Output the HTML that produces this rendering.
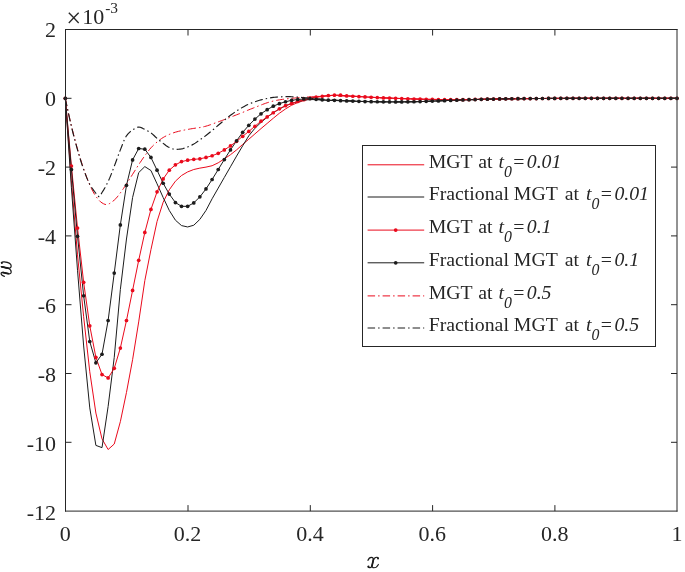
<!DOCTYPE html>
<html><head><meta charset="utf-8"><title>w vs x</title>
<style>html,body{margin:0;padding:0;background:#fff;}svg{display:block;will-change:transform;}text{font-family:"Liberation Serif",serif;fill:#262626;}.t{font-size:22px;}.l{font-size:19.8px;}.i{font-style:italic;}</style></head><body>
<svg width="685" height="572" viewBox="0 0 685 572">
<rect x="0" y="0" width="685" height="572" fill="#ffffff"/>
<g fill="none" stroke-width="1.00" stroke-linejoin="round">
<path d="M65.30,98.30 L71.42,180.86 L77.53,254.82 L83.65,316.74 L89.77,371.78 L95.89,413.06 L102.00,438.86 L108.12,449.52 L114.24,444.02 L120.35,421.66 L126.47,392.42 L132.59,359.74 L138.70,321.90 L144.82,280.62 L150.94,249.66 L157.06,221.45 L163.17,202.19 L169.29,189.80 L175.41,181.20 L181.52,175.53 L187.64,171.92 L193.76,169.51 L199.87,168.13 L205.99,167.10 L212.11,165.72 L218.23,162.80 L224.34,158.84 L230.46,154.72 L236.58,149.90 L242.69,144.40 L248.81,139.24 L254.93,133.90 L261.04,128.57 L267.16,123.41 L273.28,118.25 L279.39,113.26 L285.51,108.96 L291.63,105.18 L297.75,102.60 L303.86,100.54 L309.98,98.82 L316.10,97.27 L322.21,96.30 L328.33,95.62 L334.45,95.27 L340.57,95.27 L346.68,95.89 L352.80,96.24 L358.92,96.58 L365.03,96.92 L371.15,97.27 L377.27,97.60 L383.38,97.89 L389.50,98.10 L395.62,98.30 L401.74,98.54 L407.85,98.78 L413.97,98.99 L420.09,99.15 L426.20,99.29 L432.32,99.40 L438.44,99.50 L444.55,99.59 L450.67,99.65 L456.79,99.68 L462.91,99.64 L469.02,99.54 L475.14,99.44 L481.26,99.32 L487.37,99.17 L493.49,99.03 L499.61,98.92 L505.72,98.83 L511.84,98.75 L517.96,98.68 L524.08,98.62 L530.19,98.58 L536.31,98.53 L542.43,98.49 L548.54,98.45 L554.66,98.41 L560.78,98.37 L566.89,98.34 L573.01,98.32 L579.13,98.31 L585.25,98.30 L591.36,98.30 L597.48,98.30 L603.60,98.30 L609.71,98.30 L615.83,98.30 L621.95,98.30 L628.06,98.30 L634.18,98.30 L640.30,98.30 L646.41,98.30 L652.53,98.30 L658.65,98.30 L664.77,98.30 L670.88,98.30 L677.00,98.30" stroke="#ea0a1c"/>
<path d="M65.30,98.30 L71.42,187.74 L77.53,270.30 L83.65,345.98 L89.77,407.90 L95.89,445.40 L102.00,447.63 L108.12,406.52 L114.24,357.33 L120.35,289.56 L126.47,239.00 L132.59,197.54 L138.70,172.60 L144.82,166.58 L150.94,170.54 L157.06,183.82 L163.17,197.51 L169.29,210.44 L175.41,220.18 L181.52,225.58 L187.64,226.96 L193.76,225.24 L199.87,219.39 L205.99,210.44 L212.11,198.75 L218.23,188.08 L224.34,177.42 L230.46,166.76 L236.58,156.09 L242.69,145.77 L248.81,135.80 L254.93,128.23 L261.04,122.38 L267.16,117.22 L273.28,112.75 L279.39,108.96 L285.51,105.87 L291.63,103.46 L297.75,101.57 L303.86,100.19 L309.98,99.50 L316.10,99.68 L322.21,100.02 L328.33,100.30 L334.45,100.50 L340.57,100.71 L346.68,100.95 L352.80,101.16 L358.92,101.36 L365.03,101.57 L371.15,101.71 L377.27,101.79 L383.38,101.84 L389.50,101.89 L395.62,101.91 L401.74,101.89 L407.85,101.82 L413.97,101.74 L420.09,101.59 L426.20,101.36 L432.32,101.12 L438.44,100.89 L444.55,100.64 L450.67,100.39 L456.79,100.13 L462.91,99.91 L469.02,99.72 L475.14,99.54 L481.26,99.36 L487.37,99.19 L493.49,99.04 L499.61,98.92 L505.72,98.83 L511.84,98.75 L517.96,98.68 L524.08,98.62 L530.19,98.58 L536.31,98.53 L542.43,98.49 L548.54,98.45 L554.66,98.41 L560.78,98.37 L566.89,98.34 L573.01,98.32 L579.13,98.31 L585.25,98.30 L591.36,98.30 L597.48,98.30 L603.60,98.30 L609.71,98.30 L615.83,98.30 L621.95,98.30 L628.06,98.30 L634.18,98.30 L640.30,98.30 L646.41,98.30 L652.53,98.30 L658.65,98.30 L664.77,98.30 L670.88,98.30 L677.00,98.30" stroke="#1c1c1c"/>
<path d="M65.30,98.30 L71.42,166.07 L77.53,227.99 L83.65,282.34 L89.77,325.86 L95.89,357.33 L102.00,374.53 L108.12,377.97 L114.24,368.34 L120.35,348.04 L126.47,320.52 L132.59,290.42 L138.70,260.32 L144.82,232.46 L150.94,209.41 L157.06,191.87 L163.17,178.97 L169.29,170.20 L175.41,164.86 L181.52,161.60 L187.64,160.22 L193.76,159.36 L199.87,158.84 L205.99,157.47 L212.11,155.75 L218.23,153.34 L224.34,149.90 L230.46,145.94 L236.58,141.30 L242.69,136.31 L248.81,131.43 L254.93,126.23 L261.04,121.18 L267.16,116.88 L273.28,112.75 L279.39,108.79 L285.51,105.70 L291.63,103.46 L297.75,101.40 L303.86,99.68 L309.98,98.30 L316.10,97.10 L322.21,96.24 L328.33,95.55 L334.45,95.20 L340.57,95.20 L346.68,95.89 L352.80,96.24 L358.92,96.58 L365.03,96.92 L371.15,97.27 L377.27,97.60 L383.38,97.89 L389.50,98.10 L395.62,98.30 L401.74,98.54 L407.85,98.78 L413.97,98.99 L420.09,99.15 L426.20,99.29 L432.32,99.40 L438.44,99.50 L444.55,99.59 L450.67,99.65 L456.79,99.68 L462.91,99.64 L469.02,99.54 L475.14,99.44 L481.26,99.32 L487.37,99.17 L493.49,99.03 L499.61,98.92 L505.72,98.83 L511.84,98.75 L517.96,98.68 L524.08,98.62 L530.19,98.58 L536.31,98.53 L542.43,98.49 L548.54,98.45 L554.66,98.41 L560.78,98.37 L566.89,98.34 L573.01,98.32 L579.13,98.31 L585.25,98.30 L591.36,98.30 L597.48,98.30 L603.60,98.30 L609.71,98.30 L615.83,98.30 L621.95,98.30 L628.06,98.30 L634.18,98.30 L640.30,98.30 L646.41,98.30 L652.53,98.30 L658.65,98.30 L664.77,98.30 L670.88,98.30 L677.00,98.30" stroke="#ea0a1c"/>
<path d="M65.30,98.30 L71.42,169.51 L77.53,236.24 L83.65,295.76 L89.77,341.51 L95.89,362.84 L102.00,354.24 L108.12,320.52 L114.24,273.05 L120.35,224.89 L126.47,185.33 L132.59,159.88 L138.70,148.52 L144.82,149.21 L150.94,157.47 L157.06,170.20 L163.17,183.27 L169.29,194.10 L175.41,202.53 L181.52,206.32 L187.64,206.32 L193.76,202.88 L199.87,196.86 L205.99,188.94 L212.11,179.48 L218.23,169.51 L224.34,159.53 L230.46,149.90 L236.58,140.78 L242.69,132.36 L248.81,125.30 L254.93,119.11 L261.04,113.78 L267.16,109.65 L273.28,106.21 L279.39,103.63 L285.51,101.74 L291.63,100.36 L297.75,99.50 L303.86,98.99 L309.98,98.71 L316.10,99.33 L322.21,99.85 L328.33,100.19 L334.45,100.36 L340.57,100.64 L346.68,100.88 L352.80,101.12 L358.92,101.33 L365.03,101.53 L371.15,101.67 L377.27,101.77 L383.38,101.84 L389.50,101.89 L395.62,101.91 L401.74,101.89 L407.85,101.82 L413.97,101.74 L420.09,101.59 L426.20,101.36 L432.32,101.12 L438.44,100.89 L444.55,100.64 L450.67,100.39 L456.79,100.13 L462.91,99.91 L469.02,99.72 L475.14,99.54 L481.26,99.36 L487.37,99.19 L493.49,99.04 L499.61,98.92 L505.72,98.83 L511.84,98.75 L517.96,98.68 L524.08,98.62 L530.19,98.58 L536.31,98.53 L542.43,98.49 L548.54,98.45 L554.66,98.41 L560.78,98.37 L566.89,98.34 L573.01,98.32 L579.13,98.31 L585.25,98.30 L591.36,98.30 L597.48,98.30 L603.60,98.30 L609.71,98.30 L615.83,98.30 L621.95,98.30 L628.06,98.30 L634.18,98.30 L640.30,98.30 L646.41,98.30 L652.53,98.30 L658.65,98.30 L664.77,98.30 L670.88,98.30 L677.00,98.30" stroke="#1c1c1c"/>
<path d="M65.30,98.30 L66.83,105.57 L68.36,112.60 L69.89,119.35 L71.42,125.82 L72.95,132.03 L74.48,138.01 L76.00,143.74 L77.53,149.21 L79.06,154.45 L80.59,159.47 L82.12,164.26 L83.65,168.82 L85.18,173.21 L86.71,177.45 L88.24,181.42 L89.77,184.99 L91.30,188.25 L92.83,191.29 L94.36,194.02 L95.89,196.34 L97.41,198.36 L98.94,200.21 L100.47,201.75 L102.00,202.88 L103.53,203.74 L105.06,204.40 L106.59,204.59 L108.12,204.24 L109.65,203.51 L111.18,202.50 L112.71,201.33 L114.24,200.12 L115.77,198.70 L117.29,196.92 L118.82,194.93 L120.35,192.90 L121.88,190.81 L123.41,188.59 L124.94,186.28 L126.47,183.96 L128.00,181.60 L129.53,179.18 L131.06,176.75 L132.59,174.32 L134.12,171.90 L135.65,169.46 L137.17,167.05 L138.70,164.69 L140.23,162.38 L141.76,160.11 L143.29,157.89 L144.82,155.75 L146.35,153.65 L147.88,151.58 L149.41,149.62 L150.94,147.84 L152.47,146.21 L154.00,144.70 L155.53,143.30 L157.06,141.99 L158.58,140.75 L160.11,139.58 L161.64,138.49 L163.17,137.52 L164.70,136.64 L166.23,135.84 L167.76,135.10 L169.29,134.42 L170.82,133.79 L172.35,133.21 L173.88,132.67 L175.41,132.18 L176.94,131.75 L178.46,131.35 L179.99,130.98 L181.52,130.64 L183.05,130.31 L184.58,130.00 L186.11,129.71 L187.64,129.43 L189.17,129.16 L190.70,128.89 L192.23,128.64 L193.76,128.40 L195.29,128.18 L196.82,127.99 L198.34,127.78 L199.87,127.54 L201.40,127.25 L202.93,126.93 L204.46,126.56 L205.99,126.16 L207.52,125.71 L209.05,125.19 L210.58,124.65 L212.11,124.10 L213.64,123.55 L215.17,122.99 L216.70,122.43 L218.23,121.86 L219.75,121.31 L221.28,120.76 L222.81,120.20 L224.34,119.63 L225.87,119.04 L227.40,118.44 L228.93,117.83 L230.46,117.22 L231.99,116.62 L233.52,116.02 L235.05,115.41 L236.58,114.81 L238.11,114.21 L239.63,113.62 L241.16,113.02 L242.69,112.40 L244.22,111.77 L245.75,111.11 L247.28,110.46 L248.81,109.82 L250.34,109.21 L251.87,108.61 L253.40,108.01 L254.93,107.42 L256.46,106.81 L257.99,106.20 L259.51,105.60 L261.04,105.01 L262.57,104.42 L264.10,103.84 L265.63,103.29 L267.16,102.77 L268.69,102.30 L270.22,101.85 L271.75,101.43 L273.28,101.05 L274.81,100.71 L276.34,100.40 L277.87,100.11 L279.39,99.85 L280.92,99.61 L282.45,99.39 L283.98,99.18 L285.51,98.99 L287.04,98.80 L288.57,98.62 L290.10,98.45 L291.63,98.30 L293.16,98.16 L294.69,98.03 L296.22,97.91 L297.75,97.78 L299.28,97.65 L300.80,97.51 L302.33,97.38 L303.86,97.27 L305.39,97.17 L306.92,97.08 L308.45,97.00 L309.98,96.92 L311.51,96.84 L313.04,96.75 L314.57,96.66 L316.10,96.56 L317.63,96.47 L319.16,96.37 L320.68,96.29 L322.21,96.22 L323.74,96.15 L325.27,96.11 L326.80,96.07 L328.33,96.06 L329.86,96.06 L331.39,96.06 L332.92,96.06 L334.45,96.06 L335.98,96.06 L337.51,96.06 L339.04,96.06 L340.57,96.06 L342.09,96.06 L343.62,96.06 L345.15,96.06 L346.68,96.06 L348.21,96.07 L349.74,96.10 L351.27,96.14 L352.80,96.19 L354.33,96.26 L355.86,96.34 L357.39,96.42 L358.92,96.51 L360.45,96.61 L361.97,96.71 L363.50,96.81 L365.03,96.91 L366.56,97.01 L368.09,97.10 L369.62,97.19 L371.15,97.27 L372.68,97.35 L374.21,97.43 L375.74,97.51 L377.27,97.59 L378.80,97.67 L380.33,97.75 L381.85,97.82 L383.38,97.89 L384.91,97.95 L386.44,98.00 L387.97,98.05 L389.50,98.10 L391.03,98.15 L392.56,98.20 L394.09,98.25 L395.62,98.30 L397.15,98.36 L398.68,98.41 L400.21,98.47 L401.74,98.54 L403.26,98.60 L404.79,98.66 L406.32,98.72 L407.85,98.78 L409.38,98.84 L410.91,98.89 L412.44,98.94 L413.97,98.99 L415.50,99.03 L417.03,99.07 L418.56,99.11 L420.09,99.15 L421.62,99.19 L423.14,99.22 L424.67,99.26 L426.20,99.29 L427.73,99.32 L429.26,99.35 L430.79,99.38 L432.32,99.40 L433.85,99.42 L435.38,99.45 L436.91,99.47 L438.44,99.50 L439.97,99.52 L441.50,99.54 L443.02,99.56 L444.55,99.59 L446.08,99.60 L447.61,99.62 L449.14,99.64 L450.67,99.65 L452.20,99.66 L453.73,99.67 L455.26,99.67 L456.79,99.68 L458.32,99.67 L459.85,99.66 L461.38,99.65 L462.91,99.64 L464.43,99.62 L465.96,99.59 L467.49,99.57 L469.02,99.54 L470.55,99.51 L472.08,99.49 L473.61,99.46 L475.14,99.44 L476.67,99.41 L478.20,99.38 L479.73,99.35 L481.26,99.32 L482.79,99.28 L484.31,99.25 L485.84,99.21 L487.37,99.17 L488.90,99.14 L490.43,99.10 L491.96,99.07 L493.49,99.03 L495.02,99.00 L496.55,98.97 L498.08,98.94 L499.61,98.92 L501.14,98.90 L502.67,98.87 L504.19,98.85 L505.72,98.83 L507.25,98.81 L508.78,98.79 L510.31,98.77 L511.84,98.75 L513.37,98.74 L514.90,98.72 L516.43,98.70 L517.96,98.68 L519.49,98.67 L521.02,98.65 L522.55,98.64 L524.08,98.62 L525.60,98.61 L527.13,98.60 L528.66,98.59 L530.19,98.58 L531.72,98.56 L533.25,98.55 L534.78,98.54 L536.31,98.53 L537.84,98.52 L539.37,98.51 L540.90,98.50 L542.43,98.49 L543.96,98.48 L545.48,98.47 L547.01,98.46 L548.54,98.45 L550.07,98.44 L551.60,98.43 L553.13,98.42 L554.66,98.41 L556.19,98.40 L557.72,98.39 L559.25,98.38 L560.78,98.37 L562.31,98.36 L563.84,98.36 L565.36,98.35 L566.89,98.34 L568.42,98.34 L569.95,98.33 L571.48,98.32 L573.01,98.32 L574.54,98.32 L576.07,98.31 L577.60,98.31 L579.13,98.31 L580.66,98.30 L582.19,98.30 L583.72,98.30 L585.25,98.30 L586.77,98.30 L588.30,98.30 L589.83,98.30 L591.36,98.30 L592.89,98.30 L594.42,98.30 L595.95,98.30 L597.48,98.30 L599.01,98.30 L600.54,98.30 L602.07,98.30 L603.60,98.30 L605.13,98.30 L606.65,98.30 L608.18,98.30 L609.71,98.30 L611.24,98.30 L612.77,98.30 L614.30,98.30 L615.83,98.30 L617.36,98.30 L618.89,98.30 L620.42,98.30 L621.95,98.30 L623.48,98.30 L625.01,98.30 L626.53,98.30 L628.06,98.30 L629.59,98.30 L631.12,98.30 L632.65,98.30 L634.18,98.30 L635.71,98.30 L637.24,98.30 L638.77,98.30 L640.30,98.30 L641.83,98.30 L643.36,98.30 L644.89,98.30 L646.41,98.30 L647.94,98.30 L649.47,98.30 L651.00,98.30 L652.53,98.30 L654.06,98.30 L655.59,98.30 L657.12,98.30 L658.65,98.30 L660.18,98.30 L661.71,98.30 L663.24,98.30 L664.77,98.30 L666.30,98.30 L667.82,98.30 L669.35,98.30 L670.88,98.30 L672.41,98.30 L673.94,98.30 L675.47,98.30 L677.00,98.30" stroke="#ea0a1c" stroke-width="1.0" stroke-dasharray="8 3 1.5 3"/>
<path d="M65.30,98.30 L66.83,105.81 L68.36,113.03 L69.89,119.94 L71.42,126.51 L72.95,132.76 L74.48,138.73 L76.00,144.44 L77.53,149.90 L79.06,155.17 L80.59,160.26 L82.12,165.07 L83.65,169.51 L85.18,173.67 L86.71,177.62 L88.24,181.21 L89.77,184.30 L91.30,186.91 L92.83,189.21 L94.36,191.29 L95.89,193.24 L97.41,195.44 L98.94,196.68 L100.47,195.20 L102.00,192.56 L103.53,190.13 L105.06,187.48 L106.59,184.63 L108.12,181.55 L109.65,178.13 L111.18,174.36 L112.71,170.40 L114.24,166.41 L115.77,162.32 L117.29,158.08 L118.82,153.88 L120.35,149.90 L121.88,145.94 L123.41,141.98 L124.94,138.45 L126.47,135.80 L128.00,133.90 L129.53,132.33 L131.06,131.03 L132.59,129.95 L134.12,128.93 L135.65,127.98 L137.17,127.27 L138.70,126.99 L140.23,127.24 L141.76,127.85 L143.29,128.65 L144.82,129.43 L146.35,130.17 L147.88,130.98 L149.41,131.87 L150.94,132.87 L152.47,134.08 L154.00,135.50 L155.53,136.98 L157.06,138.38 L158.58,139.68 L160.11,140.96 L161.64,142.19 L163.17,143.36 L164.70,144.52 L166.23,145.67 L167.76,146.69 L169.29,147.49 L170.82,148.15 L172.35,148.76 L173.88,149.21 L175.41,149.38 L176.94,149.34 L178.46,149.23 L179.99,149.06 L181.52,148.87 L183.05,148.57 L184.58,148.11 L186.11,147.56 L187.64,146.98 L189.17,146.36 L190.70,145.65 L192.23,144.88 L193.76,144.05 L195.29,143.13 L196.82,142.10 L198.34,141.01 L199.87,139.92 L201.40,138.84 L202.93,137.74 L204.46,136.61 L205.99,135.45 L207.52,134.25 L209.05,133.00 L210.58,131.74 L212.11,130.46 L213.64,129.19 L215.17,127.89 L216.70,126.60 L218.23,125.30 L219.75,124.01 L221.28,122.70 L222.81,121.41 L224.34,120.14 L225.87,118.90 L227.40,117.68 L228.93,116.49 L230.46,115.33 L231.99,114.21 L233.52,113.11 L235.05,112.05 L236.58,111.03 L238.11,110.03 L239.63,109.06 L241.16,108.13 L242.69,107.24 L244.22,106.41 L245.75,105.61 L247.28,104.85 L248.81,104.15 L250.34,103.49 L251.87,102.87 L253.40,102.29 L254.93,101.74 L256.46,101.22 L257.99,100.73 L259.51,100.27 L261.04,99.85 L262.57,99.46 L264.10,99.11 L265.63,98.78 L267.16,98.47 L268.69,98.18 L270.22,97.89 L271.75,97.64 L273.28,97.44 L274.81,97.28 L276.34,97.15 L277.87,97.03 L279.39,96.92 L280.92,96.81 L282.45,96.70 L283.98,96.61 L285.51,96.58 L287.04,96.60 L288.57,96.64 L290.10,96.69 L291.63,96.75 L293.16,96.82 L294.69,96.90 L296.22,96.99 L297.75,97.10 L299.28,97.21 L300.80,97.34 L302.33,97.48 L303.86,97.61 L305.39,97.74 L306.92,97.87 L308.45,98.00 L309.98,98.13 L311.51,98.26 L313.04,98.39 L314.57,98.53 L316.10,98.66 L317.63,98.79 L319.16,98.92 L320.68,99.04 L322.21,99.16 L323.74,99.27 L325.27,99.39 L326.80,99.50 L328.33,99.61 L329.86,99.71 L331.39,99.82 L332.92,99.92 L334.45,100.02 L335.98,100.11 L337.51,100.20 L339.04,100.28 L340.57,100.36 L342.09,100.44 L343.62,100.51 L345.15,100.59 L346.68,100.66 L348.21,100.73 L349.74,100.80 L351.27,100.86 L352.80,100.93 L354.33,100.99 L355.86,101.05 L357.39,101.11 L358.92,101.17 L360.45,101.23 L361.97,101.28 L363.50,101.33 L365.03,101.38 L366.56,101.43 L368.09,101.48 L369.62,101.52 L371.15,101.57 L372.68,101.61 L374.21,101.65 L375.74,101.69 L377.27,101.73 L378.80,101.77 L380.33,101.80 L381.85,101.83 L383.38,101.84 L384.91,101.86 L386.44,101.87 L387.97,101.88 L389.50,101.89 L391.03,101.90 L392.56,101.91 L394.09,101.91 L395.62,101.91 L397.15,101.91 L398.68,101.91 L400.21,101.90 L401.74,101.89 L403.26,101.87 L404.79,101.86 L406.32,101.84 L407.85,101.82 L409.38,101.80 L410.91,101.78 L412.44,101.76 L413.97,101.74 L415.50,101.71 L417.03,101.68 L418.56,101.64 L420.09,101.59 L421.62,101.54 L423.14,101.48 L424.67,101.42 L426.20,101.36 L427.73,101.30 L429.26,101.24 L430.79,101.18 L432.32,101.12 L433.85,101.06 L435.38,101.01 L436.91,100.95 L438.44,100.89 L439.97,100.82 L441.50,100.76 L443.02,100.70 L444.55,100.64 L446.08,100.58 L447.61,100.51 L449.14,100.45 L450.67,100.39 L452.20,100.32 L453.73,100.26 L455.26,100.19 L456.79,100.13 L458.32,100.08 L459.85,100.02 L461.38,99.97 L462.91,99.91 L464.43,99.86 L465.96,99.81 L467.49,99.77 L469.02,99.72 L470.55,99.67 L472.08,99.63 L473.61,99.58 L475.14,99.54 L476.67,99.49 L478.20,99.45 L479.73,99.41 L481.26,99.36 L482.79,99.32 L484.31,99.28 L485.84,99.23 L487.37,99.19 L488.90,99.15 L490.43,99.11 L491.96,99.07 L493.49,99.04 L495.02,99.00 L496.55,98.97 L498.08,98.94 L499.61,98.92 L501.14,98.90 L502.67,98.87 L504.19,98.85 L505.72,98.83 L507.25,98.81 L508.78,98.79 L510.31,98.77 L511.84,98.75 L513.37,98.73 L514.90,98.71 L516.43,98.70 L517.96,98.68 L519.49,98.67 L521.02,98.65 L522.55,98.64 L524.08,98.62 L525.60,98.61 L527.13,98.60 L528.66,98.59 L530.19,98.58 L531.72,98.56 L533.25,98.55 L534.78,98.54 L536.31,98.53 L537.84,98.52 L539.37,98.51 L540.90,98.50 L542.43,98.49 L543.96,98.48 L545.48,98.47 L547.01,98.46 L548.54,98.45 L550.07,98.44 L551.60,98.43 L553.13,98.42 L554.66,98.41 L556.19,98.40 L557.72,98.39 L559.25,98.38 L560.78,98.37 L562.31,98.36 L563.84,98.36 L565.36,98.35 L566.89,98.34 L568.42,98.34 L569.95,98.33 L571.48,98.32 L573.01,98.32 L574.54,98.32 L576.07,98.31 L577.60,98.31 L579.13,98.31 L580.66,98.30 L582.19,98.30 L583.72,98.30 L585.25,98.30 L586.77,98.30 L588.30,98.30 L589.83,98.30 L591.36,98.30 L592.89,98.30 L594.42,98.30 L595.95,98.30 L597.48,98.30 L599.01,98.30 L600.54,98.30 L602.07,98.30 L603.60,98.30 L605.13,98.30 L606.65,98.30 L608.18,98.30 L609.71,98.30 L611.24,98.30 L612.77,98.30 L614.30,98.30 L615.83,98.30 L617.36,98.30 L618.89,98.30 L620.42,98.30 L621.95,98.30 L623.48,98.30 L625.01,98.30 L626.53,98.30 L628.06,98.30 L629.59,98.30 L631.12,98.30 L632.65,98.30 L634.18,98.30 L635.71,98.30 L637.24,98.30 L638.77,98.30 L640.30,98.30 L641.83,98.30 L643.36,98.30 L644.89,98.30 L646.41,98.30 L647.94,98.30 L649.47,98.30 L651.00,98.30 L652.53,98.30 L654.06,98.30 L655.59,98.30 L657.12,98.30 L658.65,98.30 L660.18,98.30 L661.71,98.30 L663.24,98.30 L664.77,98.30 L666.30,98.30 L667.82,98.30 L669.35,98.30 L670.88,98.30 L672.41,98.30 L673.94,98.30 L675.47,98.30 L677.00,98.30" stroke="#1c1c1c" stroke-width="1.15" stroke-dasharray="8 3 1.5 3"/>
</g>
<g fill="#ea0a1c"><circle cx="65.30" cy="98.30" r="1.85"/><circle cx="71.42" cy="166.07" r="1.85"/><circle cx="77.53" cy="227.99" r="1.85"/><circle cx="83.65" cy="282.34" r="1.85"/><circle cx="89.77" cy="325.86" r="1.85"/><circle cx="95.89" cy="357.33" r="1.85"/><circle cx="102.00" cy="374.53" r="1.85"/><circle cx="108.12" cy="377.97" r="1.85"/><circle cx="114.24" cy="368.34" r="1.85"/><circle cx="120.35" cy="348.04" r="1.85"/><circle cx="126.47" cy="320.52" r="1.85"/><circle cx="132.59" cy="290.42" r="1.85"/><circle cx="138.70" cy="260.32" r="1.85"/><circle cx="144.82" cy="232.46" r="1.85"/><circle cx="150.94" cy="209.41" r="1.85"/><circle cx="157.06" cy="191.87" r="1.85"/><circle cx="163.17" cy="178.97" r="1.85"/><circle cx="169.29" cy="170.20" r="1.85"/><circle cx="175.41" cy="164.86" r="1.85"/><circle cx="181.52" cy="161.60" r="1.85"/><circle cx="187.64" cy="160.22" r="1.85"/><circle cx="193.76" cy="159.36" r="1.85"/><circle cx="199.87" cy="158.84" r="1.85"/><circle cx="205.99" cy="157.47" r="1.85"/><circle cx="212.11" cy="155.75" r="1.85"/><circle cx="218.23" cy="153.34" r="1.85"/><circle cx="224.34" cy="149.90" r="1.85"/><circle cx="230.46" cy="145.94" r="1.85"/><circle cx="236.58" cy="141.30" r="1.85"/><circle cx="242.69" cy="136.31" r="1.85"/><circle cx="248.81" cy="131.43" r="1.85"/><circle cx="254.93" cy="126.23" r="1.85"/><circle cx="261.04" cy="121.18" r="1.85"/><circle cx="267.16" cy="116.88" r="1.85"/><circle cx="273.28" cy="112.75" r="1.85"/><circle cx="279.39" cy="108.79" r="1.85"/><circle cx="285.51" cy="105.70" r="1.85"/><circle cx="291.63" cy="103.46" r="1.85"/><circle cx="297.75" cy="101.40" r="1.85"/><circle cx="303.86" cy="99.68" r="1.85"/><circle cx="309.98" cy="98.30" r="1.85"/><circle cx="316.10" cy="97.10" r="1.85"/><circle cx="322.21" cy="96.24" r="1.85"/><circle cx="328.33" cy="95.55" r="1.85"/><circle cx="334.45" cy="95.20" r="1.85"/><circle cx="340.57" cy="95.20" r="1.85"/><circle cx="346.68" cy="95.89" r="1.85"/><circle cx="352.80" cy="96.24" r="1.85"/><circle cx="358.92" cy="96.58" r="1.85"/><circle cx="365.03" cy="96.92" r="1.85"/><circle cx="371.15" cy="97.27" r="1.85"/><circle cx="377.27" cy="97.60" r="1.85"/><circle cx="383.38" cy="97.89" r="1.85"/><circle cx="389.50" cy="98.10" r="1.85"/><circle cx="395.62" cy="98.30" r="1.85"/><circle cx="401.74" cy="98.54" r="1.85"/><circle cx="407.85" cy="98.78" r="1.85"/><circle cx="413.97" cy="98.99" r="1.85"/><circle cx="420.09" cy="99.15" r="1.85"/><circle cx="426.20" cy="99.29" r="1.85"/><circle cx="432.32" cy="99.40" r="1.85"/><circle cx="438.44" cy="99.50" r="1.85"/><circle cx="444.55" cy="99.59" r="1.85"/><circle cx="450.67" cy="99.65" r="1.85"/><circle cx="456.79" cy="99.68" r="1.85"/><circle cx="462.91" cy="99.64" r="1.85"/><circle cx="469.02" cy="99.54" r="1.85"/><circle cx="475.14" cy="99.44" r="1.85"/><circle cx="481.26" cy="99.32" r="1.85"/><circle cx="487.37" cy="99.17" r="1.85"/><circle cx="493.49" cy="99.03" r="1.85"/><circle cx="499.61" cy="98.92" r="1.85"/><circle cx="505.72" cy="98.83" r="1.85"/><circle cx="511.84" cy="98.75" r="1.85"/><circle cx="517.96" cy="98.68" r="1.85"/><circle cx="524.08" cy="98.62" r="1.85"/><circle cx="530.19" cy="98.58" r="1.85"/><circle cx="536.31" cy="98.53" r="1.85"/><circle cx="542.43" cy="98.49" r="1.85"/><circle cx="548.54" cy="98.45" r="1.85"/><circle cx="554.66" cy="98.41" r="1.85"/><circle cx="560.78" cy="98.37" r="1.85"/><circle cx="566.89" cy="98.34" r="1.85"/><circle cx="573.01" cy="98.32" r="1.85"/><circle cx="579.13" cy="98.31" r="1.85"/><circle cx="585.25" cy="98.30" r="1.85"/><circle cx="591.36" cy="98.30" r="1.85"/><circle cx="597.48" cy="98.30" r="1.85"/><circle cx="603.60" cy="98.30" r="1.85"/><circle cx="609.71" cy="98.30" r="1.85"/><circle cx="615.83" cy="98.30" r="1.85"/><circle cx="621.95" cy="98.30" r="1.85"/><circle cx="628.06" cy="98.30" r="1.85"/><circle cx="634.18" cy="98.30" r="1.85"/><circle cx="640.30" cy="98.30" r="1.85"/><circle cx="646.41" cy="98.30" r="1.85"/><circle cx="652.53" cy="98.30" r="1.85"/><circle cx="658.65" cy="98.30" r="1.85"/><circle cx="664.77" cy="98.30" r="1.85"/><circle cx="670.88" cy="98.30" r="1.85"/><circle cx="677.00" cy="98.30" r="1.85"/></g>
<g fill="#1c1c1c"><circle cx="65.30" cy="98.30" r="1.85"/><circle cx="71.42" cy="169.51" r="1.85"/><circle cx="77.53" cy="236.24" r="1.85"/><circle cx="83.65" cy="295.76" r="1.85"/><circle cx="89.77" cy="341.51" r="1.85"/><circle cx="95.89" cy="362.84" r="1.85"/><circle cx="102.00" cy="354.24" r="1.85"/><circle cx="108.12" cy="320.52" r="1.85"/><circle cx="114.24" cy="273.05" r="1.85"/><circle cx="120.35" cy="224.89" r="1.85"/><circle cx="126.47" cy="185.33" r="1.85"/><circle cx="132.59" cy="159.88" r="1.85"/><circle cx="138.70" cy="148.52" r="1.85"/><circle cx="144.82" cy="149.21" r="1.85"/><circle cx="150.94" cy="157.47" r="1.85"/><circle cx="157.06" cy="170.20" r="1.85"/><circle cx="163.17" cy="183.27" r="1.85"/><circle cx="169.29" cy="194.10" r="1.85"/><circle cx="175.41" cy="202.53" r="1.85"/><circle cx="181.52" cy="206.32" r="1.85"/><circle cx="187.64" cy="206.32" r="1.85"/><circle cx="193.76" cy="202.88" r="1.85"/><circle cx="199.87" cy="196.86" r="1.85"/><circle cx="205.99" cy="188.94" r="1.85"/><circle cx="212.11" cy="179.48" r="1.85"/><circle cx="218.23" cy="169.51" r="1.85"/><circle cx="224.34" cy="159.53" r="1.85"/><circle cx="230.46" cy="149.90" r="1.85"/><circle cx="236.58" cy="140.78" r="1.85"/><circle cx="242.69" cy="132.36" r="1.85"/><circle cx="248.81" cy="125.30" r="1.85"/><circle cx="254.93" cy="119.11" r="1.85"/><circle cx="261.04" cy="113.78" r="1.85"/><circle cx="267.16" cy="109.65" r="1.85"/><circle cx="273.28" cy="106.21" r="1.85"/><circle cx="279.39" cy="103.63" r="1.85"/><circle cx="285.51" cy="101.74" r="1.85"/><circle cx="291.63" cy="100.36" r="1.85"/><circle cx="297.75" cy="99.50" r="1.85"/><circle cx="303.86" cy="98.99" r="1.85"/><circle cx="309.98" cy="98.71" r="1.85"/><circle cx="316.10" cy="99.33" r="1.85"/><circle cx="322.21" cy="99.85" r="1.85"/><circle cx="328.33" cy="100.19" r="1.85"/><circle cx="334.45" cy="100.36" r="1.85"/><circle cx="340.57" cy="100.64" r="1.85"/><circle cx="346.68" cy="100.88" r="1.85"/><circle cx="352.80" cy="101.12" r="1.85"/><circle cx="358.92" cy="101.33" r="1.85"/><circle cx="365.03" cy="101.53" r="1.85"/><circle cx="371.15" cy="101.67" r="1.85"/><circle cx="377.27" cy="101.77" r="1.85"/><circle cx="383.38" cy="101.84" r="1.85"/><circle cx="389.50" cy="101.89" r="1.85"/><circle cx="395.62" cy="101.91" r="1.85"/><circle cx="401.74" cy="101.89" r="1.85"/><circle cx="407.85" cy="101.82" r="1.85"/><circle cx="413.97" cy="101.74" r="1.85"/><circle cx="420.09" cy="101.59" r="1.85"/><circle cx="426.20" cy="101.36" r="1.85"/><circle cx="432.32" cy="101.12" r="1.85"/><circle cx="438.44" cy="100.89" r="1.85"/><circle cx="444.55" cy="100.64" r="1.85"/><circle cx="450.67" cy="100.39" r="1.85"/><circle cx="456.79" cy="100.13" r="1.85"/><circle cx="462.91" cy="99.91" r="1.85"/><circle cx="469.02" cy="99.72" r="1.85"/><circle cx="475.14" cy="99.54" r="1.85"/><circle cx="481.26" cy="99.36" r="1.85"/><circle cx="487.37" cy="99.19" r="1.85"/><circle cx="493.49" cy="99.04" r="1.85"/><circle cx="499.61" cy="98.92" r="1.85"/><circle cx="505.72" cy="98.83" r="1.85"/><circle cx="511.84" cy="98.75" r="1.85"/><circle cx="517.96" cy="98.68" r="1.85"/><circle cx="524.08" cy="98.62" r="1.85"/><circle cx="530.19" cy="98.58" r="1.85"/><circle cx="536.31" cy="98.53" r="1.85"/><circle cx="542.43" cy="98.49" r="1.85"/><circle cx="548.54" cy="98.45" r="1.85"/><circle cx="554.66" cy="98.41" r="1.85"/><circle cx="560.78" cy="98.37" r="1.85"/><circle cx="566.89" cy="98.34" r="1.85"/><circle cx="573.01" cy="98.32" r="1.85"/><circle cx="579.13" cy="98.31" r="1.85"/><circle cx="585.25" cy="98.30" r="1.85"/><circle cx="591.36" cy="98.30" r="1.85"/><circle cx="597.48" cy="98.30" r="1.85"/><circle cx="603.60" cy="98.30" r="1.85"/><circle cx="609.71" cy="98.30" r="1.85"/><circle cx="615.83" cy="98.30" r="1.85"/><circle cx="621.95" cy="98.30" r="1.85"/><circle cx="628.06" cy="98.30" r="1.85"/><circle cx="634.18" cy="98.30" r="1.85"/><circle cx="640.30" cy="98.30" r="1.85"/><circle cx="646.41" cy="98.30" r="1.85"/><circle cx="652.53" cy="98.30" r="1.85"/><circle cx="658.65" cy="98.30" r="1.85"/><circle cx="664.77" cy="98.30" r="1.85"/><circle cx="670.88" cy="98.30" r="1.85"/><circle cx="677.00" cy="98.30" r="1.85"/></g>
<g stroke="#262626" stroke-width="1" fill="none" stroke-linecap="square">
<line x1="65.50" y1="29.50" x2="65.50" y2="511.10"/>
<line x1="677.00" y1="29.50" x2="677.00" y2="511.10"/>
<line x1="65.50" y1="29.50" x2="677.00" y2="29.50"/>
<line x1="65.50" y1="511.10" x2="677.00" y2="511.10"/>
</g>
<g stroke="#262626" stroke-width="1" fill="none">
<line x1="188.00" y1="511.10" x2="188.00" y2="505.10"/>
<line x1="188.00" y1="29.50" x2="188.00" y2="35.50"/>
<line x1="310.30" y1="511.10" x2="310.30" y2="505.10"/>
<line x1="310.30" y1="29.50" x2="310.30" y2="35.50"/>
<line x1="432.60" y1="511.10" x2="432.60" y2="505.10"/>
<line x1="432.60" y1="29.50" x2="432.60" y2="35.50"/>
<line x1="554.90" y1="511.10" x2="554.90" y2="505.10"/>
<line x1="554.90" y1="29.50" x2="554.90" y2="35.50"/>
<line x1="65.50" y1="98.30" x2="71.50" y2="98.30"/>
<line x1="677.00" y1="98.30" x2="671.00" y2="98.30"/>
<line x1="65.50" y1="167.10" x2="71.50" y2="167.10"/>
<line x1="677.00" y1="167.10" x2="671.00" y2="167.10"/>
<line x1="65.50" y1="235.90" x2="71.50" y2="235.90"/>
<line x1="677.00" y1="235.90" x2="671.00" y2="235.90"/>
<line x1="65.50" y1="304.70" x2="71.50" y2="304.70"/>
<line x1="677.00" y1="304.70" x2="671.00" y2="304.70"/>
<line x1="65.50" y1="373.50" x2="71.50" y2="373.50"/>
<line x1="677.00" y1="373.50" x2="671.00" y2="373.50"/>
<line x1="65.50" y1="442.30" x2="71.50" y2="442.30"/>
<line x1="677.00" y1="442.30" x2="671.00" y2="442.30"/>
</g>
<text class="t" x="65.3" y="541" text-anchor="middle">0</text>
<text class="t" x="187.6" y="541" text-anchor="middle">0.2</text>
<text class="t" x="310.0" y="541" text-anchor="middle">0.4</text>
<text class="t" x="432.3" y="541" text-anchor="middle">0.6</text>
<text class="t" x="554.7" y="541" text-anchor="middle">0.8</text>
<text class="t" x="677.0" y="541" text-anchor="middle">1</text>
<text class="t" x="56" y="36.7" text-anchor="end">2</text>
<text class="t" x="56" y="105.7" text-anchor="end">0</text>
<text class="t" x="56" y="174.7" text-anchor="end">-2</text>
<text class="t" x="56" y="243.7" text-anchor="end">-4</text>
<text class="t" x="56" y="312.6" text-anchor="end">-6</text>
<text class="t" x="56" y="381.6" text-anchor="end">-8</text>
<text class="t" x="56" y="450.6" text-anchor="end">-10</text>
<text class="t" x="56" y="519.6" text-anchor="end">-12</text>
<text font-size="26.5px" x="66.3" y="27.2">×</text>
<text class="t" x="82.3" y="24.1">10</text>
<text font-size="15.4px" x="105.2" y="13.1">-3</text>
<g fill="none" stroke="#1a1a1a" stroke-linecap="round" stroke-linejoin="round">
<path d="M368.0,560.3 C368.7,558.4 370.0,557.3 371.3,557.3 C372.9,557.3 373.7,558.6 373.3,560.4 L372.1,565.3 C371.7,567.0 370.8,567.7 369.7,567.7 C368.9,567.7 368.3,567.4 368.0,566.9" stroke-width="1.25"/>
<path d="M373.3,560.4 C373.9,558.5 375.3,557.3 376.8,557.3 C377.7,557.3 378.3,557.7 378.5,558.3" stroke-width="1.05"/>
<path d="M372.1,565.3 C371.8,566.8 372.6,567.7 373.9,567.7 C375.7,567.7 377.4,566.4 378.4,564.4" stroke-width="1.05"/>
<path d="M373.4,559.6 L372.0,565.8" stroke-width="1.7"/>
</g>
<circle cx="368.5" cy="566.5" r="1.0" fill="#1a1a1a"/>
<circle cx="378.0" cy="558.6" r="1.0" fill="#1a1a1a"/>
<g transform="translate(11.6,276.6) rotate(-90)" fill="none" stroke="#1a1a1a" stroke-linecap="round" stroke-linejoin="round">
<path d="M0.3,-7.2 C0.9,-9.3 2.0,-10.5 3.1,-10.5 C4.2,-10.5 4.5,-9.6 4.2,-8.2 L3.0,-3.6 C2.5,-1.6 3.0,-0.4 4.7,-0.4 C6.3,-0.4 7.5,-1.6 8.3,-3.6 L9.9,-10.3" stroke-width="1.2"/>
<path d="M9.9,-10.3 L8.6,-4.6 C8.0,-1.8 8.8,-0.4 10.6,-0.4 C12.8,-0.4 14.5,-3.6 14.8,-7.4 C14.9,-8.8 14.6,-9.8 14.0,-10.3" stroke-width="1.2"/>
<path d="M3.9,-8.6 L2.9,-3.4" stroke-width="1.7"/>
<path d="M9.7,-9.6 L8.5,-3.6" stroke-width="1.7"/>
</g>
<circle transform="translate(11.6,276.6) rotate(-90)" cx="13.7" cy="-9.7" r="1.0" fill="#1a1a1a"/>
<rect x="362.5" y="145.5" width="293.0" height="201.0" fill="#fff" stroke="#262626" stroke-width="1" shape-rendering="crispEdges"/>
<line x1="367.6" y1="164.80" x2="424.2" y2="164.80" stroke="#ea0a1c" stroke-width="1.00"/>
<text class="l" x="428.7" y="167.50" xml:space="preserve">MGT <tspan dx="1.0">at </tspan><tspan class="i" dx="1.0">t</tspan><tspan class="i" font-size="15.8px" dy="9.5">0</tspan><tspan class="i" dy="-9.5">=</tspan><tspan class="i" dx="1.5">0.01</tspan></text>
<line x1="367.6" y1="197.00" x2="424.2" y2="197.00" stroke="#1c1c1c" stroke-width="1.00"/>
<text class="l" x="428.7" y="199.70" xml:space="preserve">Fractional MGT <tspan dx="2.4">at </tspan><tspan class="i" dx="2.1">t</tspan><tspan class="i" font-size="15.8px" dy="9.5">0</tspan><tspan class="i" dy="-9.5">=</tspan><tspan class="i" dx="1.5">0.01</tspan></text>
<line x1="367.6" y1="230.10" x2="424.2" y2="230.10" stroke="#ea0a1c" stroke-width="1.00"/>
<circle cx="395.7" cy="230.10" r="1.85" fill="#ea0a1c"/>
<text class="l" x="428.7" y="232.80" xml:space="preserve">MGT <tspan dx="1.0">at </tspan><tspan class="i" dx="1.0">t</tspan><tspan class="i" font-size="15.8px" dy="9.5">0</tspan><tspan class="i" dy="-9.5">=</tspan><tspan class="i" dx="1.5">0.1</tspan></text>
<line x1="367.6" y1="262.80" x2="424.2" y2="262.80" stroke="#1c1c1c" stroke-width="1.00"/>
<circle cx="395.7" cy="262.80" r="1.85" fill="#1c1c1c"/>
<text class="l" x="428.7" y="265.50" xml:space="preserve">Fractional MGT <tspan dx="2.4">at </tspan><tspan class="i" dx="2.1">t</tspan><tspan class="i" font-size="15.8px" dy="9.5">0</tspan><tspan class="i" dy="-9.5">=</tspan><tspan class="i" dx="1.5">0.1</tspan></text>
<line x1="367.6" y1="295.90" x2="424.2" y2="295.90" stroke="#ea0a1c" stroke-width="1.00" stroke-dasharray="7.5 3 1.5 3"/>
<text class="l" x="428.7" y="298.60" xml:space="preserve">MGT <tspan dx="1.0">at </tspan><tspan class="i" dx="1.0">t</tspan><tspan class="i" font-size="15.8px" dy="9.5">0</tspan><tspan class="i" dy="-9.5">=</tspan><tspan class="i" dx="1.5">0.5</tspan></text>
<line x1="367.6" y1="328.00" x2="424.2" y2="328.00" stroke="#1c1c1c" stroke-width="1.00" stroke-dasharray="7.5 3 1.5 3"/>
<text class="l" x="428.7" y="330.70" xml:space="preserve">Fractional MGT <tspan dx="2.4">at </tspan><tspan class="i" dx="2.1">t</tspan><tspan class="i" font-size="15.8px" dy="9.5">0</tspan><tspan class="i" dy="-9.5">=</tspan><tspan class="i" dx="1.5">0.5</tspan></text>
</svg>
</body></html>
